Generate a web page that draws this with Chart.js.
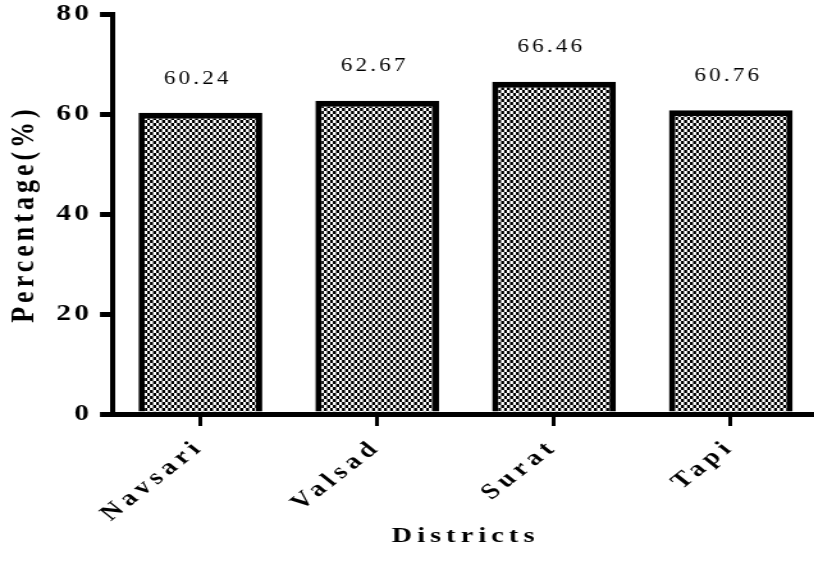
<!DOCTYPE html>
<html>
<head>
<meta charset="utf-8">
<script src="https://cdn.jsdelivr.net/npm/chart.js@4.4.0/dist/chart.umd.min.js"></script>
<style>
  html, body { margin: 0; padding: 0; background: #fff; overflow: hidden; }
  #wrap { width: 640px; height: 578px; transform: scaleX(1.28); transform-origin: 0 0; }
</style>
</head>
<body>
<div id="wrap"><canvas id="chart" width="640" height="578"></canvas></div>
<script>
// data
var districts = ["Navsari", "Valsad", "Surat", "Tapi"];
var percentages = [60.24, 62.67, 66.46, 60.76];
var valueLabels = ["60.24", "62.67", "66.46", "60.76"];
var yTicks = [0, 20, 40, 60, 80];

var STRETCH = 1.28; // the picture is wider than it is tall, text and bars included
var serif = "'Liberation Serif', 'Times New Roman', serif";

// checkerboard fill for the bars
function checker(ctx) {
  var c = document.createElement("canvas");
  c.width = 6;
  c.height = 6;
  var g = c.getContext("2d");
  g.fillStyle = "#fff";
  g.fillRect(0, 0, 6, 6);
  g.fillStyle = "#000";
  g.fillRect(0, 0, 3, 3);
  g.fillRect(3, 3, 3, 3);
  var p = ctx.createPattern(c, "repeat");
  p.setTransform(new DOMMatrix().scale(1 / STRETCH, 1));
  return p;
}

// chart.js has no letter spacing option, so wrap the scale text drawing
function spaced(scale, labelSp, titleSp) {
  if (scale._spaced) return;
  scale._spaced = true;
  var drawLabels = scale.drawLabels;
  var drawTitle = scale.drawTitle;
  scale.drawLabels = function () {
    var ctx = this.ctx;
    var old = ctx.letterSpacing;
    ctx.letterSpacing = labelSp;
    drawLabels.apply(this, arguments);
    ctx.letterSpacing = old;
  };
  scale.drawTitle = function () {
    var ctx = this.ctx;
    var old = ctx.letterSpacing;
    ctx.letterSpacing = titleSp;
    drawTitle.apply(this, arguments);
    ctx.letterSpacing = old;
  };
}

var spacingPlugin = {
  id: "spacing",
  beforeDraw: function (chart) {
    spaced(chart.scales.x, "4.5px", "4px");
    spaced(chart.scales.y, "2.5px", "4px");
  }
};

var valuePlugin = {
  id: "values",
  afterDatasetsDraw: function (chart) {
    var ctx = chart.ctx;
    var meta = chart.getDatasetMeta(0);
    ctx.save();
    ctx.letterSpacing = "2.5px";
    ctx.font = "18px " + serif;
    ctx.fillStyle = "#000";
    ctx.textAlign = "center";
    ctx.textBaseline = "middle";
    meta.data.forEach(function (bar, i) {
      ctx.fillText(valueLabels[i], bar.x - 2, bar.y - 34);
    });
    ctx.restore();
  }
};

var canvas = document.getElementById("chart");
var ctx = canvas.getContext("2d");

var myChart = new Chart(canvas, {
  type: "bar",
  data: {
    labels: districts,
    datasets: [{
      data: percentages,
      backgroundColor: checker(ctx),
      borderColor: "#000",
      borderWidth: { top: 6, left: 5, right: 5, bottom: 0 },
      borderSkipped: false,
      barPercentage: 0.7,
      categoryPercentage: 1.0
    }]
  },
  options: {
    responsive: false,
    animation: false,
    events: [],
    layout: { padding: { top: 14, left: 0, right: 0, bottom: 0 } },
    plugins: {
      legend: { display: false },
      tooltip: { enabled: false }
    },
    scales: {
      x: {
        grid: {
          offset: false,
          drawOnChartArea: false,
          drawTicks: true,
          tickLength: 12,
          lineWidth: 3,
          color: "#000"
        },
        border: { display: true, color: "#000", width: 5 },
        ticks: {
          minRotation: 45,
          maxRotation: 45,
          padding: 8,
          color: "#000",
          font: { family: serif, size: 22, weight: "bold" }
        },
        title: {
          display: true,
          text: "Districts",
          color: "#000",
          padding: { top: 0, bottom: 28 },
          font: { family: serif, size: 22, weight: "bold" }
        },
        afterFit: function (scale) {
          scale.height = 164;
          scale.paddingLeft = 0;
          scale.paddingRight = 0;
        }
      },
      y: {
        min: 0,
        max: 80,
        afterBuildTicks: function (scale) {
          scale.ticks = yTicks.map(function (v) { return { value: v }; });
        },
        grid: {
          drawOnChartArea: false,
          drawTicks: true,
          tickLength: 9.4,
          lineWidth: 5,
          color: "#000"
        },
        border: { display: true, color: "#000", width: 4 },
        ticks: {
          padding: 6,
          color: "#000",
          font: { family: serif, size: 23, weight: "bold" }
        },
        title: {
          display: true,
          text: "Percentage(%)",
          color: "#000",
          padding: { top: 4, bottom: 0 },
          font: { family: serif, size: 26, weight: "bold" }
        },
        afterFit: function (scale) {
          scale.width = 87.5;
          scale.paddingTop = 0;
          scale.paddingBottom = 0;
        }
      }
    }
  },
  plugins: [spacingPlugin, valuePlugin]
});
</script>
</body>
</html>
